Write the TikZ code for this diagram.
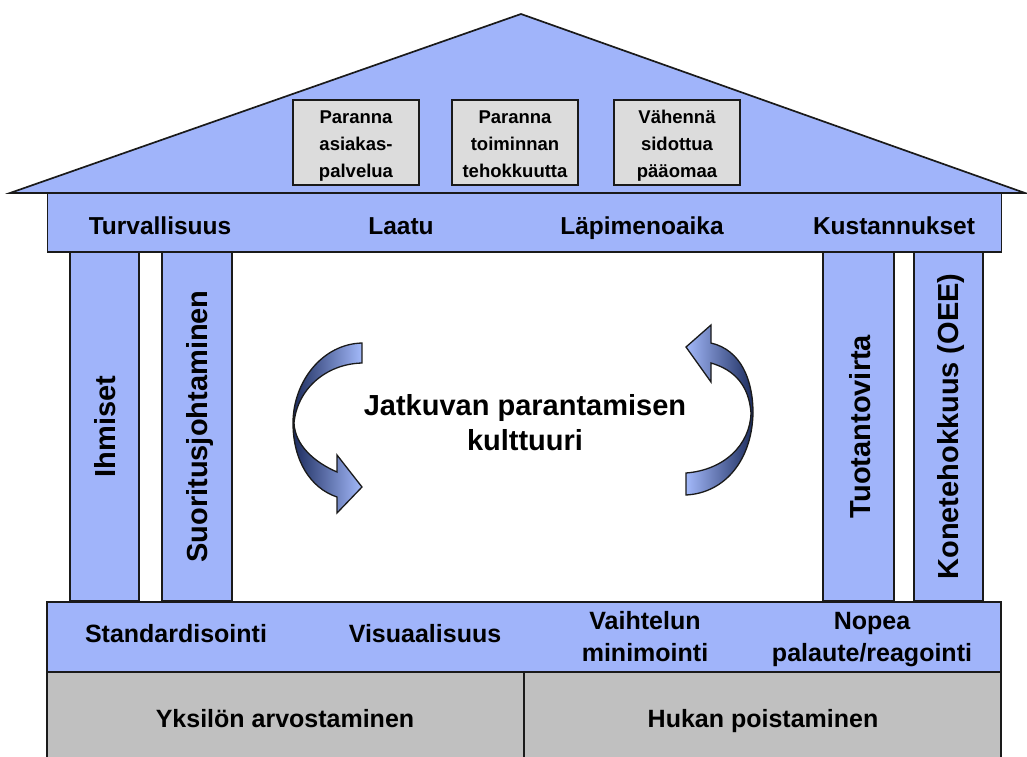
\documentclass[tikz,border=0pt]{standalone}
\usepackage{fontspec}
\setmainfont{Liberation Sans}
\definecolor{roofblue}{HTML}{A0B4FA}
\definecolor{boxgray}{HTML}{DCDCDC}
\definecolor{basegray}{HTML}{C0C0C0}
\definecolor{arrdark}{HTML}{1C2C5E}
\definecolor{arrlight}{HTML}{A3B9FA}
\definecolor{edge}{HTML}{1A1A1A}
\begin{document}
\begin{tikzpicture}[x=1pt,y=-1pt,
  part/.style={draw=edge, line width=1.7pt, fill=roofblue, inner sep=0pt},
  goalbox/.style={draw=edge, line width=1.7pt, fill=boxgray, inner sep=0pt,
     minimum width=126pt, minimum height=85pt},
  goaltext/.style={anchor=base, align=center, inner sep=0pt,
     font=\bfseries\fontsize{18.5}{27}\selectfont},
  beamtext/.style={anchor=base, font=\bfseries\fontsize{24.5}{32}\selectfont, align=center, inner sep=0pt},
  pillartext/.style={anchor=base, font=\bfseries\fontsize{29}{35}\selectfont, rotate=90, inner sep=0pt},
  centertext/.style={anchor=base, font=\bfseries\fontsize{29}{35}\selectfont, align=center, inner sep=0pt},
  basetext/.style={anchor=base, font=\bfseries\fontsize{25}{32}\selectfont, align=center, inner sep=0pt}]
\useasboundingbox (0,0) rectangle (1027,756);

% roof
\filldraw[draw=edge, line width=1.7pt, fill=roofblue, line join=miter]
  (10,193) -- (521,14) -- (1025,193) -- cycle;
\node[goalbox] (g1) at (356,142.5) {};
\node[goalbox] (g2) at (515,142.5) {};
\node[goalbox] (g3) at (677,142.5) {};
\node[goaltext] (g1t) at (356,177) {Paranna\\asiakas-\\palvelua};
\node[goaltext] (g2t) at (515,177) {Paranna\\toiminnan\\tehokkuutta};
\node[goaltext] (g3t) at (677,177) {Vähennä\\sidottua\\pääomaa};

% top beam
\node[part, minimum width=954pt, minimum height=59pt] (topbeam) at (524.5,222.5) {};
\node[beamtext] (t1) at (160,234) {Turvallisuus};
\node[beamtext] (t2) at (401,234) {Laatu};
\node[beamtext] (t3) at (642,234) {Läpimenoaika};
\node[beamtext] (t4) at (894,234) {Kustannukset};

% pillars
\node[part, minimum width=69pt, minimum height=349pt] (p1) at (104.5,426.5) {};
\node[part, minimum width=70pt, minimum height=349pt] (p2) at (197,426.5) {};
\node[part, minimum width=71pt, minimum height=349pt] (p3) at (858.5,426.5) {};
\node[part, minimum width=69pt, minimum height=349pt] (p4) at (948.5,426.5) {};
\node[pillartext] (pt1) at (115.5,426.5) {Ihmiset};
\node[pillartext] (pt2) at (207.5,426.5) {Suoritusjohtaminen};
\node[pillartext] (pt3) at (870,426.5) {Tuotantovirta};
\node[pillartext] (pt4) at (958.5,426.5) {Konetehokkuus (OEE)};

% bottom beam
\node[part, minimum width=954pt, minimum height=70pt] (botbeam) at (524,637) {};
\node[basetext] (b1) at (176,642) {Standardisointi};
\node[basetext] (b2) at (425,642) {Visuaalisuus};
\node[basetext] (b3) at (645,661) {Vaihtelun\\minimointi};
\node[basetext] (b4) at (872,661) {Nopea\\palaute/reagointi};

% foundation
\fill[basegray] (47,672) rectangle (1001,760);
\draw[edge, line width=1.7pt] (47,760) -- (47,672) -- (1001,672) -- (1001,760);
\draw[edge, line width=1.3pt] (524,672) -- (524,760);
\node[basetext] (f1) at (285,727) {Yksilön arvostaminen};
\node[basetext] (f2) at (763,727) {Hukan poistaminen};

% culture text
\node[centertext] (culture) at (525,450.5) {Jatkuvan parantamisen\\kulttuuri};

% left curved arrow
\shade[left color=arrdark, right color=arrlight, draw=edge, line width=1.3pt, line join=miter]
  (362,343) .. controls (322,344) and (293,382) .. (293,423)
  .. controls (293,460) and (310,488) .. (337,497)
  -- (337,513) -- (362,487) -- (337,455) -- (337,472)
  .. controls (314,462) and (295,445) .. (294,423)
  .. controls (297,390) and (325,364) .. (362,363) -- cycle;

% right curved arrow
\shade[left color=arrlight, right color=arrdark, draw=edge, line width=1.3pt, line join=miter]
  (686,473) .. controls (724,470) and (750,445) .. (751,413)
  .. controls (749,386) and (735,370) .. (711,363)
  -- (711,382) -- (686,347) -- (711,325) -- (711,343)
  .. controls (741,350) and (753,380) .. (753,413)
  .. controls (752,460) and (725,493) .. (686,495) -- cycle;
\end{tikzpicture}
\end{document}
